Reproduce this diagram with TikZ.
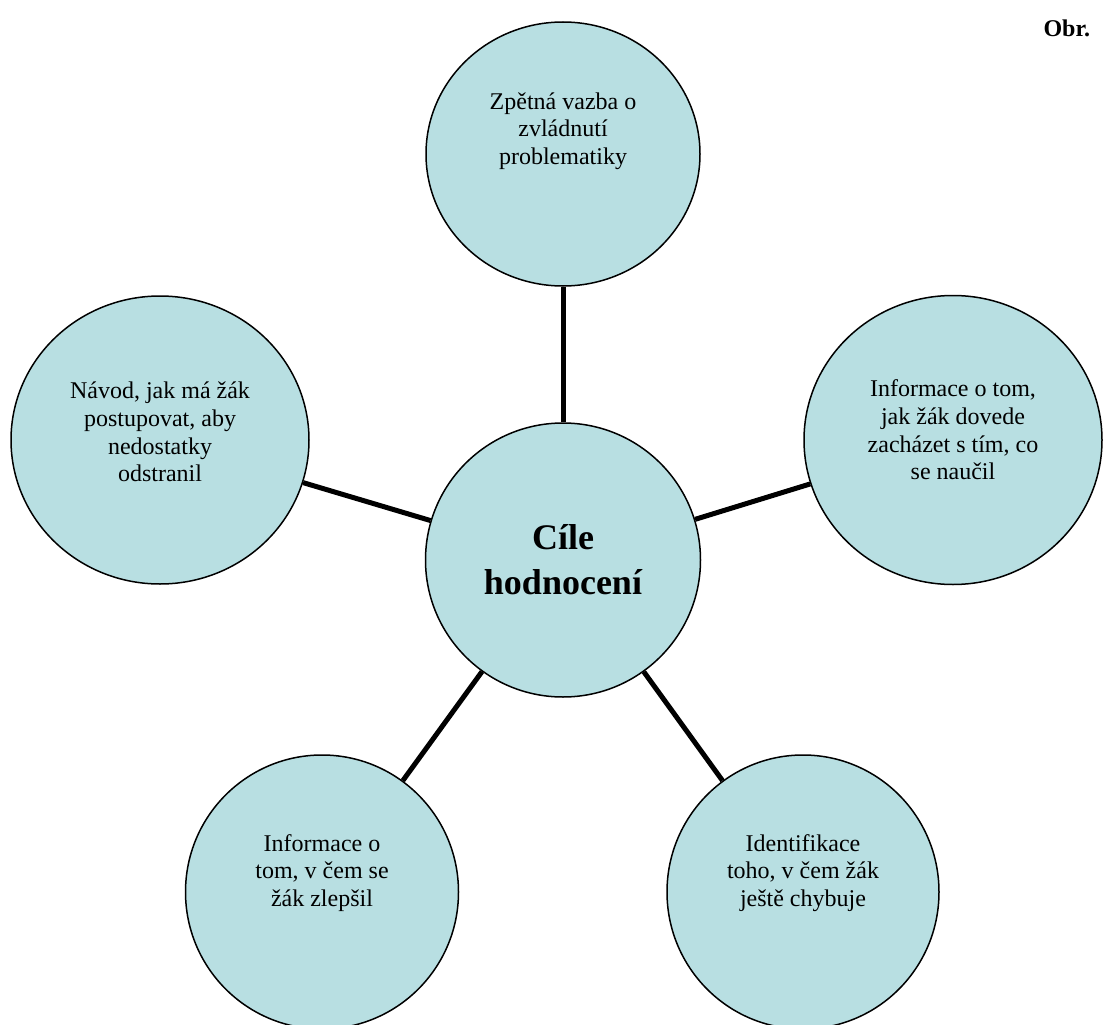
\documentclass[tikz,border=0pt]{standalone}
\usepackage{fontspec}
\setmainfont{Liberation Serif}
\usetikzlibrary{shapes.geometric}
\definecolor{bubble}{RGB}{184,223,226}

\begin{document}
\begin{tikzpicture}[x=1pt, y=-1pt,
    goal/.style={ellipse, draw=black, line width=1.5pt, fill=bubble, inner sep=0pt},
    goaltext/.style={align=center, font=\fontsize{24}{27.6}\selectfont},
    link/.style={line width=5pt, black}]
    \useasboundingbox (0,0) rectangle (1104,1025);

    % Centre
    \node[goal, minimum width=275, minimum height=274] (hub) at (563,560) {};
    \node[align=center, font=\fontsize{36}{45}\selectfont\bfseries] (hubtext) at (563,560) {Cíle\\hodnocení};

    % Goals around it
    \node[goal, minimum width=274, minimum height=264] (feedback) at (563,154) {};
    \node[goaltext] (feedbacktext) at (563,131) {Zpětná vazba o\\zvládnutí\\problematiky};

    \node[goal, minimum width=298, minimum height=288] (guide) at (160,440) {};
    \node[goaltext] (guidetext) at (160,432) {Návod, jak má žák\\postupovat, aby\\nedostatky\\odstranil};

    \node[goal, minimum width=298, minimum height=289] (use) at (953,440) {};
    \node[goaltext] (usetext) at (953,430) {Informace o tom,\\jak žák dovede\\zacházet s tím, co\\se naučil};

    \node[goal, minimum width=273, minimum height=274] (progress) at (322,892) {};
    \node[goaltext] (progresstext) at (322,873) {Informace o\\tom, v čem se\\žák zlepšil};

    \node[goal, minimum width=272, minimum height=274] (gaps) at (803,892) {};
    \node[goaltext] (gapstext) at (803,873) {Identifikace\\toho, v čem žák\\ještě chybuje};

    % Spokes
    \draw[link] (hub) -- (feedback);
    \draw[link] (hub) -- (guide);
    \draw[link] (hub) -- (use);
    \draw[link] (hub) -- (progress);
    \draw[link] (hub) -- (gaps);

    \node[anchor=base west, font=\fontsize{24}{27.6}\selectfont\bfseries] (caption) at (1040,37) {Obr.};
\end{tikzpicture}
\end{document}
